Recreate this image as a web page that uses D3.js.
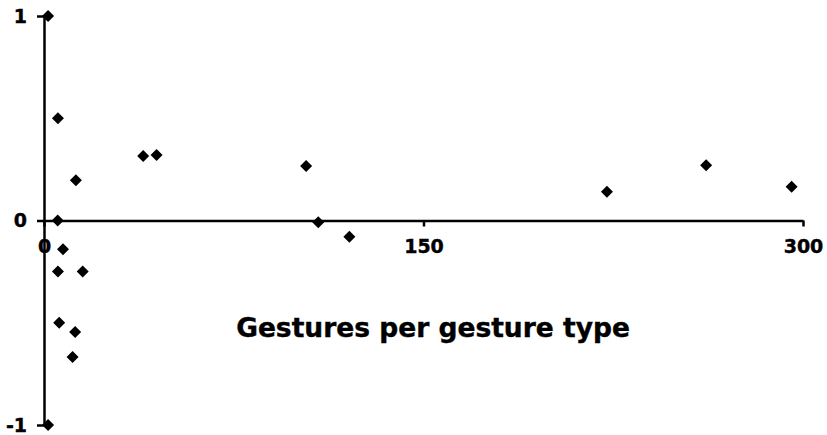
<!DOCTYPE html>
<html>
<head>
<meta charset="utf-8">
<script src="https://cdn.jsdelivr.net/npm/d3@7"></script>
<style>
  body { margin: 0; background: #fff; }
  svg text { font-family: "DejaVu Sans", Verdana, sans-serif; font-weight: bold; fill: #000; stroke: #000; stroke-width: 0.4px; }
</style>
</head>
<body>
<div id="chart"></div>
<script>
var width = 827
var height = 435

// values
var gesturesPerType = [1.6, 5.5, 12.6, 5.4, 7.5, 5.5, 15.3, 6, 12.3, 11.3, 1.6, 39.2, 44.5, 103.6, 108.4, 120.7, 222.5, 261.7, 295.5]
var correlation = [1, 0.5, 0.197, 0, -0.14, -0.25, -0.25, -0.5, -0.545, -0.667, -1, 0.315, 0.32, 0.266, -0.008, -0.08, 0.14, 0.27, 0.165]
var xTicks = [0, 150, 300]
var yTicks = [-1, 0, 1]
var xTitle = 'Gestures per gesture type'

var points = gesturesPerType.map(function(d, i) { return { x: d, y: correlation[i] } })

var svg = d3.select('#chart')
  .append('svg')
    .attr('width', width)
    .attr('height', height)

var x = d3.scaleLinear().domain([0, 300]).range([44, 803])
var y = d3.scaleLinear().domain([-1, 1]).range([425, 16])

// y axis
var yAxis = svg.append('g')
  .attr('transform', 'translate(' + x(0) + ',0)')
  .call(d3.axisLeft(y).tickValues(yTicks).tickSize(7).tickSizeOuter(0).tickPadding(10)
    .tickFormat(function(d) { return String(d) }))
yAxis.select('.domain').attr('stroke-width', 2.5)
yAxis.selectAll('.tick line').attr('stroke-width', 2.5)
yAxis.selectAll('text').style('font-size', '19px')

// x axis sits at y = 0
var xAxis = svg.append('g')
  .attr('transform', 'translate(0,' + y(0) + ')')
  .call(d3.axisBottom(x).tickValues(xTicks).tickSize(6).tickSizeOuter(0).tickPadding(13))
xAxis.select('.domain').attr('stroke-width', 2.5)
xAxis.selectAll('.tick line').attr('stroke-width', 2.5)
xAxis.selectAll('text').style('font-size', '19px')

svg.append('text')
  .attr('x', 433)
  .attr('y', 337)
  .attr('text-anchor', 'middle')
  .style('font-size', '26.5px')
  .text(xTitle)

svg.selectAll('.pt')
  .data(points)
  .enter()
  .append('path')
    .attr('class', 'pt')
    .attr('d', d3.symbol(d3.symbolSquare, 72))
    .attr('transform', function(d) { return 'translate(' + x(d.x) + ',' + y(d.y) + ') rotate(45)' })
    .attr('fill', '#000')
</script>
</body>
</html>
